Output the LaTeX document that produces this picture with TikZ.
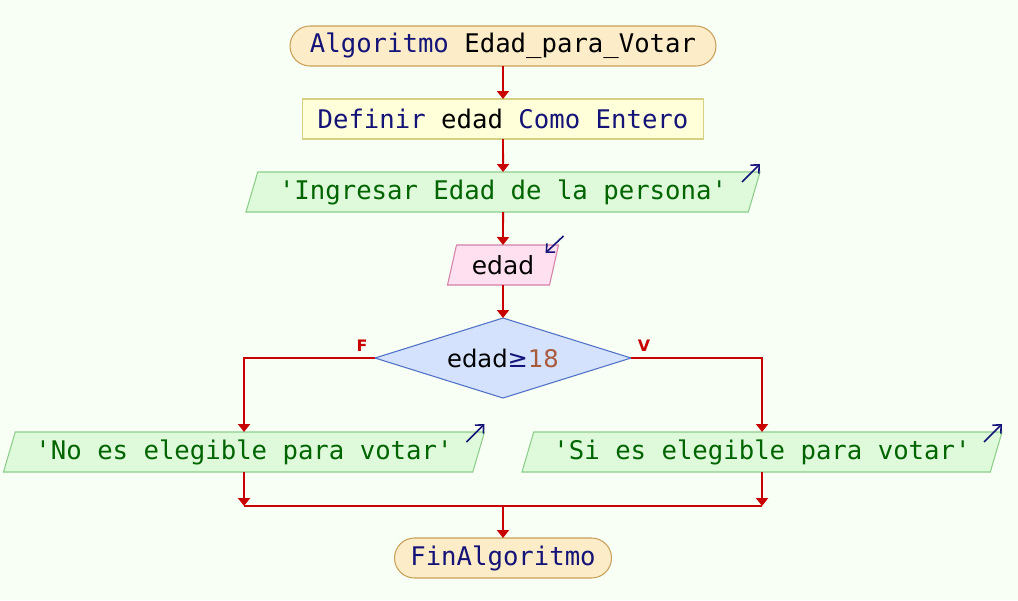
\documentclass[tikz,border=0pt]{standalone}
\usepackage{fontspec}
\setmainfont{DejaVu Sans}
\newfontfamily\codefont[Ligatures=TeXOff]{DejaVu Sans Mono}
\usetikzlibrary{shapes.geometric,arrows.meta,positioning}

\definecolor{bgc}{RGB}{248,255,244}
\definecolor{termf}{RGB}{253,236,200}
\definecolor{termd}{RGB}{200,160,90}
\definecolor{procf}{RGB}{255,255,218}
\definecolor{procd}{RGB}{214,208,130}
\definecolor{outf}{RGB}{222,250,218}
\definecolor{outd}{RGB}{140,206,140}
\definecolor{inf}{RGB}{255,224,240}
\definecolor{ind}{RGB}{212,128,168}
\definecolor{condf}{RGB}{212,226,253}
\definecolor{condd}{RGB}{80,112,200}
\definecolor{flowc}{RGB}{200,0,0}
\definecolor{kwc}{RGB}{20,20,120}
\definecolor{strc}{RGB}{0,100,0}
\definecolor{numc}{RGB}{170,90,60}

\tikzset{
  base/.style={minimum height=0.8cm, inner sep=0pt, outer sep=0pt, line width=0.6pt,
    font=\codefont\fontsize{14.6pt}{17pt}\selectfont},
  term/.style={base, rectangle, rounded corners=0.4cm, draw=termd, fill=termf},
  proc/.style={base, rectangle, draw=procd, fill=procf},
  outbox/.style={base, trapezium, trapezium left angle=65, trapezium right angle=115,
    trapezium stretches body, draw=outd, fill=outf, text=strc},
  inbox/.style={outbox, draw=ind, fill=inf, text=black,
    font=\fontsize{14.2pt}{16pt}\selectfont},
  cond/.style={diamond, aspect=3.2, inner sep=0pt, outer sep=0pt, line width=0.6pt,
    minimum width=5.12cm, minimum height=1.6cm, draw=condd, fill=condf,
    font=\fontsize{13.8pt}{16pt}\selectfont},
  flow/.style={line width=1.1pt, draw=flowc, -{Triangle[width=0.24cm,length=0.16cm]}},
  link/.style={line width=1.1pt, draw=flowc},
  flag/.style={font=\bfseries\fontsize{9pt}{10pt}\selectfont, text=flowc, inner sep=3pt},
  icon/.style={line width=0.9pt, draw=kwc, -{Straight Barb[length=0.13cm,width=0.24cm]}}
}

\begin{document}
\begin{tikzpicture}[node distance=1.46cm]
\path[use as bounding box, fill=bgc] (0,0) rectangle (20.36,-12);

\node (start) [term, minimum width=8.52cm] at (10.06,-0.92) {\textcolor{kwc}{Algoritmo} Edad\_para\_Votar};
\node (def) [proc, minimum width=8.02cm, below of=start] {\textcolor{kwc}{Definir} edad \textcolor{kwc}{Como Entero}};
\node (ask) [outbox, minimum width=10.28cm, below of=def] {'Ingresar Edad de la persona'};
\node (edad) [inbox, minimum width=2.22cm, below of=ask] {edad};
\node (dia) [cond, below of=edad, node distance=1.86cm] {edad\textcolor{kwc}{≥}\textcolor{numc}{18}};
\node (nope) [outbox, minimum width=9.62cm] at (4.88,-9.04) {'No es elegible para votar'};
\node (sip) [outbox, minimum width=9.6cm] at (15.24,-9.04) {'Si es elegible para votar'};
\node (fin) [term, minimum width=4.34cm] at (10.06,-11.16) {\textcolor{kwc}{FinAlgoritmo}};
\coordinate (merge) at (10.06,-10.12);

% flujo principal
\draw[flow] (start) -- (def);
\draw[flow] (def) -- (ask);
\draw[flow] (ask) -- (edad);
\draw[flow] (edad) -- (dia);
\draw[flow] (dia.west) -| node[flag, above, pos=0.05] {F} (nope.north);
\draw[flow] (dia.east) -| node[flag, above, pos=0.05] {V} (sip.north);
\draw[flow] (nope.south) -- (nope.south |- merge);
\draw[flow] (sip.south) -- (sip.south |- merge);
\draw[link] (nope.south |- merge) -- (sip.south |- merge);
\draw[flow] (merge) -- (fin);

% iconos de entrada/salida
\draw[icon] ([shift={(-0.36,-0.2)}]ask.top right corner) -- ([shift={(0,0.16)}]ask.top right corner);
\draw[icon] ([shift={(0.1,0.18)}]edad.top right corner) -- ([shift={(-0.26,-0.16)}]edad.top right corner);
\draw[icon] ([shift={(-0.36,-0.2)}]nope.top right corner) -- ([shift={(0,0.16)}]nope.top right corner);
\draw[icon] ([shift={(-0.36,-0.2)}]sip.top right corner) -- ([shift={(0,0.16)}]sip.top right corner);
\end{tikzpicture}
\end{document}
